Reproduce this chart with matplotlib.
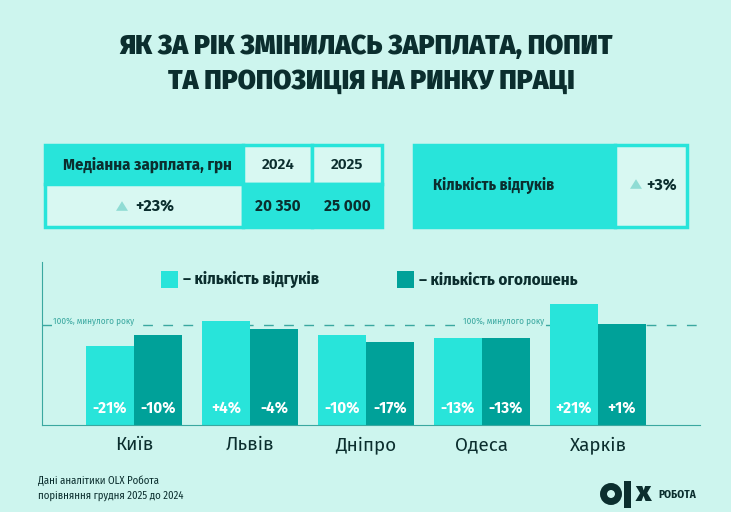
import matplotlib.pyplot as plt
from matplotlib.patches import Rectangle, Circle, Polygon

# Data
CITIES = ['Київ', 'Львів', 'Дніпро', 'Одеса', 'Харків']
RESPONSES_PCT = [-21, 4, -10, -13, 21]   # кількість відгуків, % до минулого року
VACANCIES_PCT = [-10, -4, -17, -13, 1]   # кількість оголошень, % до минулого року
SALARY_YEARS = ['2024', '2025']
SALARY_VALUES = ['20 350', '25 000']
SALARY_CHANGE = '+23%'
RESPONSES_TOTAL_CHANGE = '+3%'

# Colours
BG = '#cdf5ee'
LIGHT = '#28e4da'
DARK = '#00a199'
CELL = '#d8f8f2'
TEXT = '#0b2e2e'
DASH = '#3aa8a0'
TRI = '#8fdcd4'

# Fonts: normal width for title and numbers, condensed for labels
WIDE = ['Fira Sans', 'Roboto', 'DejaVu Sans']
NARROW = ['Fira Sans Condensed', 'Roboto Condensed', 'DejaVu Sans']

W, H = 731, 512
plt.rcParams['font.family'] = WIDE

fig = plt.figure(figsize=(W / 100, H / 100), dpi=100, facecolor=BG)

# Full-canvas axes in pixel coordinates for the infographic parts
bg = fig.add_axes([0, 0, 1, 1])
bg.set_xlim(0, W)
bg.set_ylim(H, 0)
bg.axis('off')
bg.set_facecolor(BG)

# Title
bg.text(366, 47, 'ЯК ЗА РІК ЗМІНИЛАСЬ ЗАРПЛАТА, ПОПИТ', ha='center', va='center',
        fontsize=19, fontweight='black', color=TEXT)
bg.text(371, 82, 'ТА ПРОПОЗИЦІЯ НА РИНКУ ПРАЦІ', ha='center', va='center',
        fontsize=19, fontweight='black', color=TEXT)


def cell(x0, y0, x1, y1, fill):
    bg.add_patch(Rectangle((x0, y0), x1 - x0, y1 - y0, facecolor=fill,
                           edgecolor=LIGHT, linewidth=2.5))


def triangle(cx, cy, size=6, color=TRI):
    bg.add_patch(Polygon([(cx - size, cy + size * 0.8), (cx + size, cy + size * 0.8),
                          (cx, cy - size * 0.8)], closed=True, facecolor=color,
                         edgecolor='none'))


# Salary table
cell(45, 145, 243, 184, LIGHT)
cell(243, 145, 312, 184, CELL)
cell(312, 145, 382, 184, CELL)
cell(45, 184, 243, 227, CELL)
cell(243, 184, 312, 227, LIGHT)
cell(312, 184, 382, 227, LIGHT)
bg.text(147, 165, 'Медіанна зарплата, грн', ha='center', va='center', family=NARROW,
        fontsize=12, fontweight='bold', color=TEXT)
for x, yr, val in zip([278, 347], SALARY_YEARS, SALARY_VALUES):
    bg.text(x, 165, yr, ha='center', va='center', fontsize=11,
            fontweight='semibold', color=TEXT)
    bg.text(x, 206, val, ha='center', va='center', fontsize=11,
            fontweight='bold', color=TEXT)
triangle(122, 206)
bg.text(135, 206, SALARY_CHANGE, ha='left', va='center', fontsize=11.5,
        fontweight='bold', color=TEXT)

# Responses table
cell(414, 145, 615, 227, LIGHT)
cell(615, 145, 687, 227, CELL)
bg.text(433, 185, 'Кількість відгуків', ha='left', va='center', family=NARROW,
        fontsize=11.5, fontweight='bold', color=TEXT)
triangle(636, 184)
bg.text(646, 185, RESPONSES_TOTAL_CHANGE, ha='left', va='center', fontsize=11.5,
        fontweight='bold', color=TEXT)

# Legend
bg.add_patch(Rectangle((161, 271), 17, 17, facecolor=LIGHT, edgecolor='none'))
bg.text(183, 280, '– кількість відгуків', ha='left', va='center', family=NARROW,
        fontsize=12, fontweight='bold', color=TEXT)
bg.add_patch(Rectangle((397, 271), 17, 17, facecolor=DARK, edgecolor='none'))
bg.text(419, 280, '– кількість оголошень', ha='left', va='center', family=NARROW,
        fontsize=12, fontweight='bold', color=TEXT)

# Footer
bg.text(38, 481, 'Дані аналітики OLX Робота', ha='left', va='center', family=NARROW,
        fontsize=7.7, color=TEXT)
bg.text(38, 496, 'порівняння грудня 2025 до 2024', ha='left', va='center', family=NARROW,
        fontsize=7.7, color=TEXT)

# Logo
bg.add_patch(Circle((611, 494), 7.5, facecolor='none', edgecolor=TEXT, linewidth=5))
bg.add_patch(Rectangle((624, 481), 7, 27, facecolor=TEXT, edgecolor='none'))
bg.text(643, 493, 'x', ha='center', va='center', fontsize=21, fontweight='black', color=TEXT)
bg.text(658, 495, 'РОБОТА', ha='left', va='center', family=NARROW, fontsize=8,
        fontweight='bold', color=TEXT)

# Bar chart
left, right, base, top = 42, 700, 425, 262
ax = fig.add_axes([left / W, (H - base) / H, (right - left) / W, (base - top) / H])
ax.set_facecolor('none')
ax.set_xlim(left, right)
ax.set_ylim(0, base - top)

centers = [134 + 116 * i for i in range(len(CITIES))]
bw = 48
resp_h = [100 + p for p in RESPONSES_PCT]
vac_h = [100 + p for p in VACANCIES_PCT]
ax.bar([c - bw / 2 for c in centers], resp_h, width=bw, color=LIGHT, zorder=2)
ax.bar([c + bw / 2 for c in centers], vac_h, width=bw, color=DARK, zorder=2)


def fmt(p):
    return f'+{p}%' if p > 0 else f'{p}%'


for c, rp, vp in zip(centers, RESPONSES_PCT, VACANCIES_PCT):
    ax.text(c - bw / 2, 17, fmt(rp), ha='center', va='center', fontsize=11,
            fontweight='bold', color='white', zorder=3)
    ax.text(c + bw / 2, 17, fmt(vp), ha='center', va='center', fontsize=11,
            fontweight='bold', color='white', zorder=3)

ax.axhline(100, color=DASH, linestyle=(0, (7, 7.5)), linewidth=1, zorder=1)
for x in [53, 463]:
    ax.text(x, 103, '100%, минулого року', ha='left', va='center', family=NARROW,
            fontsize=6.5, color=DASH, zorder=3,
            bbox=dict(facecolor=BG, edgecolor='none', pad=1))

ax.set_xticks(centers)
ax.set_xticklabels(CITIES, fontsize=13.5, color=TEXT)
ax.tick_params(axis='x', length=0, pad=8)
ax.set_yticks([])
for s in ['top', 'right']:
    ax.spines[s].set_visible(False)
ax.spines['left'].set_color(DASH)
ax.spines['bottom'].set_color(DASH)

fig.savefig('out.png', dpi=100, facecolor=BG)
